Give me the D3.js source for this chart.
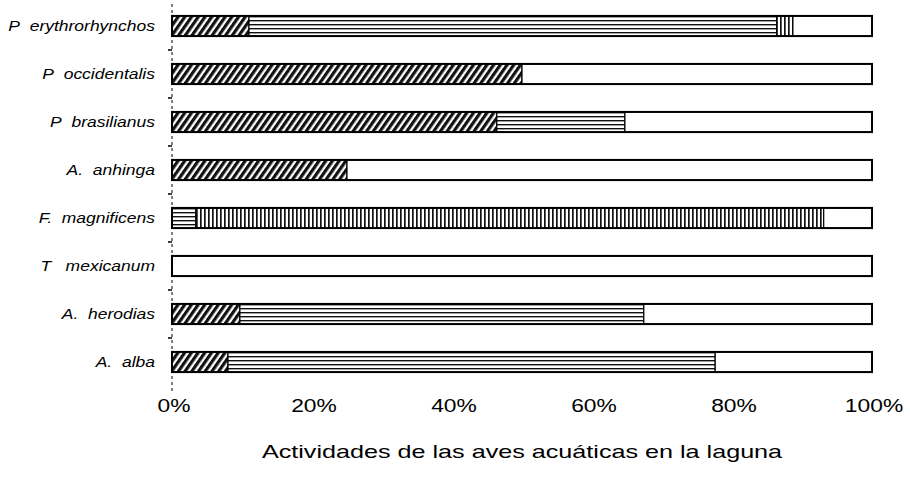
<!DOCTYPE html>
<html><head><meta charset="utf-8">
<script src="https://cdn.jsdelivr.net/npm/d3@7"></script>
<style>body{margin:0;background:#fff}</style>
</head><body><svg id="c" width="910" height="487"></svg>
<script>
const species = ["P\u00a0 erythrorhynchos","P\u00a0 occidentalis","P\u00a0 brasilianus","A.\u00a0 anhinga","F.\u00a0 magnificens","T\u00a0\u00a0 mexicanum","A.\u00a0 herodias","A.\u00a0 alba"];
const seriesNames = ["Actividad 1","Actividad 2","Actividad 3","Actividad 4"];
const act1 = [11.0, 50.0, 46.4, 25.0, 0.0, 0.0, 9.7, 8.0];
const act2 = [75.4, 0.0, 18.3, 0.0, 3.4, 0.0, 57.7, 69.6];
const act3 = [2.3, 0.0, 0.0, 0.0, 89.7, 0.0, 0.0, 0.0];
const act4 = [11.3, 50.0, 35.3, 75.0, 6.9, 100.0, 32.6, 22.4];
const tickLabels = ["0%","20%","40%","60%","80%","100%"];
const tickValues = [0,20,40,60,80,100];
const axisTitle = "Actividades de las aves acuáticas en la laguna";

const svg = d3.select("#c");
const defs = svg.append("defs");
const pd = defs.append("pattern").attr("id","p0").attr("patternUnits","userSpaceOnUse").attr("width",5.5).attr("height",6).attr("patternTransform","rotate(35)");
pd.append("rect").attr("width",5.5).attr("height",6).attr("fill","#fff");
pd.append("rect").attr("width",3.2).attr("height",6).attr("fill","#111");
const ph = defs.append("pattern").attr("id","p1").attr("patternUnits","userSpaceOnUse").attr("width",8).attr("height",4);
ph.append("rect").attr("width",8).attr("height",4).attr("fill","#fff");
ph.append("rect").attr("y",0).attr("width",8).attr("height",1.4).attr("fill","#111");
const pv = defs.append("pattern").attr("id","p2").attr("patternUnits","userSpaceOnUse").attr("width",4).attr("height",8);
pv.append("rect").attr("width",4).attr("height",8).attr("fill","#fff");
pv.append("rect").attr("x",0).attr("width",1.7).attr("height",8).attr("fill","#111");
const fills = ["url(#p0)","url(#p1)","url(#p2)","#fff"];

const x = d3.scaleLinear().domain([0,100]).range([172,872]);
const y = d3.scaleBand().domain(species).range([2,386]).paddingInner(0.58).paddingOuter(0.29);

const rows = species.map((s,i)=>({sp:s, v:[act1[i],act2[i],act3[i],act4[i]]}));
const stack = d3.stack().keys([0,1,2,3]).value((d,k)=>d.v[k]);
const layers = stack(rows);

const g = svg.append("g");
layers.forEach((layer,k)=>{
  g.selectAll(null).data(layer).enter().append("rect")
    .attr("x",d=>x(d[0])).attr("width",d=>x(d[1])-x(d[0]))
    .attr("y",d=>y(d.data.sp)).attr("height",y.bandwidth())
    .attr("fill",fills[k]).attr("stroke","#000").attr("stroke-width",d=>(d[1]-d[0])>0?1.2:0);
});
g.selectAll(null).data(rows).enter().append("rect")
  .attr("x",x(0)).attr("width",x(100)-x(0)).attr("y",d=>y(d.sp)).attr("height",y.bandwidth())
  .attr("fill","none").attr("stroke","#000").attr("stroke-width",2);

svg.append("line").attr("x1",x(0)).attr("x2",x(0)).attr("y1",4).attr("y2",392)
  .attr("stroke","#000").attr("stroke-width",1).attr("stroke-dasharray","3,3");
const step = y.step();
const divs = species.map((s,i)=>y(s)+y.bandwidth()+ (step - y.bandwidth())/2);
svg.selectAll(null).data(divs.slice(0,-1)).enter().append("line")
  .attr("x1",x(0)-4).attr("x2",x(0)).attr("y1",d=>d).attr("y2",d=>d).attr("stroke","#000").attr("stroke-width",1.5);

svg.selectAll(null).data(species).enter().append("text")
  .attr("transform",d=>`translate(155,${y(d)+y.bandwidth()/2}) scale(1.25,1)`).attr("dy","0.35em")
  .attr("text-anchor","end").attr("font-family","Liberation Sans, Arial, sans-serif")
  .attr("font-style","italic").attr("font-size",14).text(d=>d);

svg.selectAll(null).data(tickValues).enter().append("text")
  .attr("transform",d=>`translate(${x(d)+2},412) scale(1.2,1)`).attr("text-anchor","middle")
  .attr("font-family","Liberation Sans, Arial, sans-serif").attr("font-size",19)
  .text((d,i)=>tickLabels[i]);

svg.append("text").attr("transform","translate(522,458) scale(1.36,1)").attr("text-anchor","middle")
  .attr("font-family","Liberation Sans, Arial, sans-serif").attr("font-size",18.5)
  .text(axisTitle);
</script></body></html>
